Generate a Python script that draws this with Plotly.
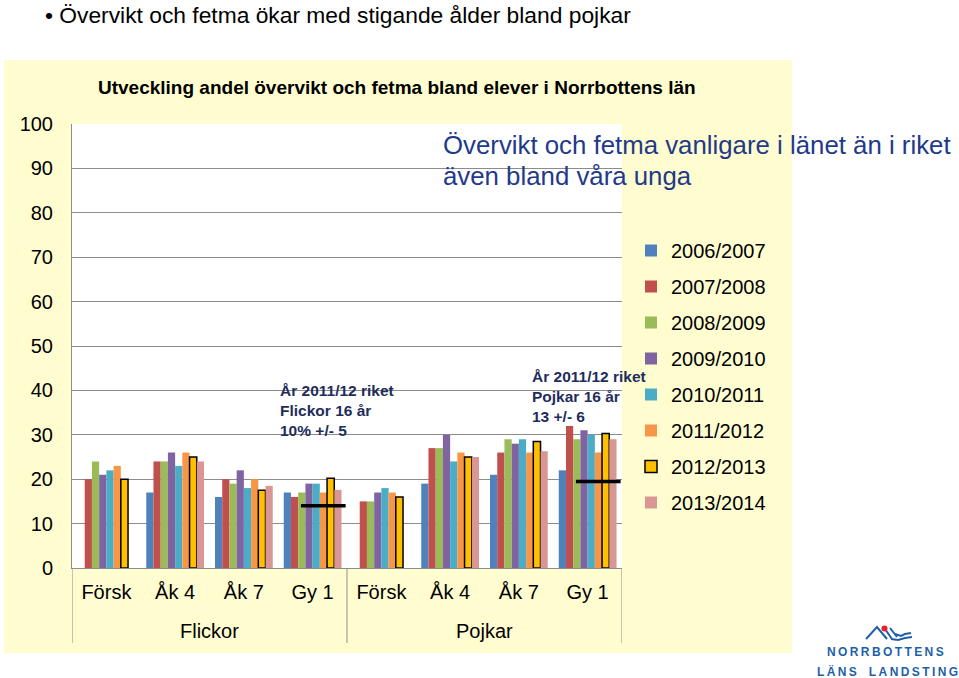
import plotly.graph_objects as go

# ---- data ----
grades = ["Försk", "Åk 4", "Åk 7", "Gy 1"]
sexes = ["Flickor", "Pojkar"]
tick_labels = grades + grades
series_names = ["2006/2007", "2007/2008", "2008/2009", "2009/2010",
                "2010/2011", "2011/2012", "2012/2013", "2013/2014"]
v_2006 = [None, 17, 16, 17, None, 19, 21, 22]
v_2007 = [20, 24, 20, 16, 15, 27, 26, 32]
v_2008 = [24, 24, 19, 17, 15, 27, 29, 29]
v_2009 = [21, 26, 22, 19, 17, 30, 28, 31]
v_2010 = [22, 23, 18, 19, 18, 24, 29, 30]
v_2011 = [23, 26, 20, 17, 17, 26, 26, 26]
v_2012 = [20, 25, 17.5, 20.2, 16, 25, 28.5, 30.3]
v_2013 = [None, 24, 18.5, 17.6, None, 25, 26.3, 29]
series_values = [v_2006, v_2007, v_2008, v_2009, v_2010, v_2011, v_2012, v_2013]
riket_flickor_gy1 = 14
riket_pojkar_gy1 = 19.5

colors = ["#4F81BD", "#C0504D", "#9BBB59", "#8064A2",
          "#4BACC6", "#F79646", "#FFC000", "#D99694"]

FONT = "Arial, Liberation Sans, sans-serif"

# plot-area pixel geometry
L, R, T, B = 72, 622, 124, 568
W, H = R - L, B - T


def px(x):
    return (x - L) / W


def py(y):
    return (B - y) / H


def path(points, close=False):
    s = "M " + " L ".join(f"{px(x):.5f},{py(y):.5f}" for x, y in points)
    return s + (" Z" if close else "")


xs = list(range(len(tick_labels)))

fig = go.Figure()
for i, (name, vals) in enumerate(zip(series_names, series_values)):
    outlined = name == "2012/2013"
    fig.add_trace(go.Bar(
        x=xs, y=vals, name=name, legendgroup=name,
        marker=dict(color=colors[i],
                    line=dict(color="black", width=1.5 if outlined else 0)),
    ))

shapes = [
    dict(type="rect", xref="paper", yref="paper", x0=px(4), x1=px(792),
         y0=py(653), y1=py(60), fillcolor="#FFFDD0", line=dict(width=0), layer="below"),
    dict(type="rect", xref="paper", yref="paper", x0=0, x1=1, y0=0, y1=1,
         fillcolor="white", line=dict(width=0), layer="below"),
]
for xd in [-0.5, 3.5, 7.5]:
    shapes.append(dict(type="line", xref="x", yref="paper", x0=xd, x1=xd,
                       y0=0, y1=py(643), line=dict(color="#8C8C8C", width=1)))
for ix, val in [(3, riket_flickor_gy1), (7, riket_pojkar_gy1)]:
    shapes.append(dict(type="line", xref="x", yref="y", x0=ix - 0.17, x1=ix + 0.48,
                       y0=val, y1=val, line=dict(color="black", width=3.5)))

# logo icon
logo_blue = "#1F5FA8"
shapes += [
    dict(type="path", xref="paper", yref="paper",
         path=path([(866, 639), (877, 627), (887, 639)]),
         line=dict(color=logo_blue, width=2)),
    dict(type="path", xref="paper", yref="paper",
         path=path([(885, 629), (892, 639)]), line=dict(color=logo_blue, width=2)),
    dict(type="path", xref="paper", yref="paper",
         path=path([(890, 628), (897, 637)]), line=dict(color=logo_blue, width=2)),
    dict(type="path", xref="paper", yref="paper",
         path=path([(895, 634), (901, 636), (905, 634), (911, 633)]),
         line=dict(color=logo_blue, width=2)),
    dict(type="path", xref="paper", yref="paper",
         path=path([(891, 639), (898, 640), (905, 638), (912, 637)]),
         line=dict(color=logo_blue, width=2)),
    dict(type="circle", xref="paper", yref="paper",
         x0=px(881.5), x1=px(887.5), y0=py(631.5), y1=py(625.5),
         fillcolor="#E8202A", line=dict(width=0)),
]

navy = "#1F2D5C"
blue_text = "#1F3A8A"
annotations = [
    dict(text="• Övervikt och fetma ökar med stigande ålder bland pojkar",
         xref="paper", yref="paper", x=px(43), y=py(15), xanchor="left", yanchor="middle",
         showarrow=False, font=dict(family=FONT, size=22.8, color="black")),
    dict(text="<b>Utveckling andel övervikt och fetma bland elever i Norrbottens län</b>",
         xref="paper", yref="paper", x=px(397), y=py(88), xanchor="center", yanchor="middle",
         showarrow=False, font=dict(family=FONT, size=19, color="black")),
    dict(text="Övervikt och fetma vanligare i länet än i riket",
         xref="paper", yref="paper", x=px(441), y=py(145), xanchor="left", yanchor="middle",
         align="left", showarrow=False, font=dict(family=FONT, size=25.8, color=blue_text)),
    dict(text="även bland våra unga",
         xref="paper", yref="paper", x=px(441), y=py(176), xanchor="left", yanchor="middle",
         align="left", showarrow=False, font=dict(family=FONT, size=25.8, color=blue_text)),
    dict(text="<b>År 2011/12 riket<br>Flickor 16 år<br>10% +/- 5</b>",
         xref="paper", yref="paper", x=px(278), y=py(410), xanchor="left", yanchor="middle",
         align="left", showarrow=False, font=dict(family=FONT, size=15.5, color=navy)),
    dict(text="<b>År 2011/12 riket<br>Pojkar 16 år<br>13 +/- 6</b>",
         xref="paper", yref="paper", x=px(530), y=py(396), xanchor="left", yanchor="middle",
         align="left", showarrow=False, font=dict(family=FONT, size=15.5, color=navy)),
    dict(text="<b>N\u2009O\u2009R\u2009R\u2009B\u2009O\u2009T\u2009T\u2009E\u2009N\u2009S</b>",
         xref="paper", yref="paper", x=px(885), y=py(652), xanchor="center", yanchor="middle",
         showarrow=False, font=dict(family=FONT, size=12, color=logo_blue)),
    dict(text="<b>L\u2009Ä\u2009N\u2009S\u2003L\u2009A\u2009N\u2009D\u2009S\u2009T\u2009I\u2009N\u2009G</b>",
         xref="paper", yref="paper", x=px(887), y=py(671), xanchor="center", yanchor="middle",
         showarrow=False, font=dict(family=FONT, size=12, color=logo_blue)),
]
for k, sex in enumerate(sexes):
    annotations.append(dict(text=sex, xref="x", yref="paper", x=1.5 + 4 * k, y=py(631),
                            xanchor="center", yanchor="middle", showarrow=False,
                            font=dict(family=FONT, size=20, color="black")))

fig.update_layout(
    width=959, height=678, autosize=False,
    margin=dict(l=L, r=959 - R, t=T, b=678 - B, pad=0),
    paper_bgcolor="white", plot_bgcolor="rgba(0,0,0,0)",
    barmode="group", bargap=0.16, bargroupgap=0,
    font=dict(family=FONT, size=20, color="black"),
    showlegend=True,
    legend=dict(x=px(631), xanchor="left", y=py(231), yanchor="top",
                font=dict(family=FONT, size=20, color="black"),
                tracegroupgap=7, bgcolor="rgba(0,0,0,0)", borderwidth=0,
                traceorder="grouped"),
    shapes=shapes, annotations=annotations,
)
fig.update_xaxes(range=[-0.5, 7.5], tickmode="array", tickvals=xs, ticktext=tick_labels,
                 showgrid=False, showline=True, linecolor="#8C8C8C", linewidth=1,
                 ticks="", ticklabelstandoff=6, zeroline=False,
                 tickfont=dict(family=FONT, size=20, color="black"))
fig.update_yaxes(range=[0, 100], dtick=10, showgrid=True, gridcolor="#8C8C8C", gridwidth=1,
                 showline=True, linecolor="#8C8C8C", linewidth=1, zeroline=False,
                 ticks="", ticklabelstandoff=14,
                 tickfont=dict(family=FONT, size=20, color="black"))

fig.write_html("out.html")
